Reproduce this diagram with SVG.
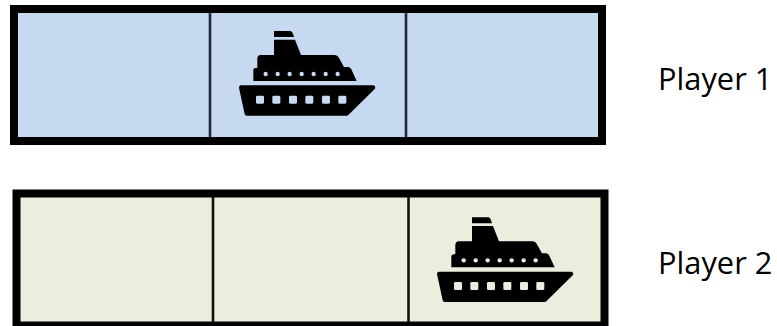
<svg xmlns="http://www.w3.org/2000/svg" width="777" height="326" viewBox="0 0 777 326">
<style>
.frame{stroke:#000;stroke-width:8}
.p1{fill:#c6d9f1;color:#c6d9f1}
.p2{fill:#ebeedd;color:#ebeedd}
.div{stroke-width:2.6}
.lbl{font-family:"Open Sans","Noto Sans",sans-serif;font-size:30.8px;fill:#000}
.hole{fill:currentColor}
</style>
<defs>
<g id="ship" transform="scale(0.3333)">
<path fill="#000" d="M162 33H212Q218 35 222 51H162Z"/>
<path fill="#000" d="M162 59H225L243 105H345Q352 106 356 112L372 141H385Q391 142 394 148L410 183H100V150Q100 144 112 143V115Q113 106 122 105H162Z"/>
<path fill="#000" d="M62 196H460Q468 198 465 206L385 285Q383 287 380 287H80Q75 287 74 282L57 203Q57 197 62 196Z"/>
<g class="hole">
<circle cx="137" cy="162" r="6.500"/><circle cx="173" cy="162" r="6.500"/><circle cx="209" cy="162" r="6.500"/><circle cx="245" cy="162" r="6.500"/><circle cx="281" cy="162" r="6.500"/><circle cx="317" cy="162" r="6.500"/><circle cx="353" cy="162" r="6.500"/>
<rect x="108" y="227" width="24" height="24" rx="4"/><rect x="157" y="227" width="24" height="24" rx="4"/><rect x="207" y="227" width="24" height="24" rx="4"/><rect x="256" y="227" width="24" height="24" rx="4"/><rect x="306" y="227" width="24" height="24" rx="4"/><rect x="355" y="227" width="24" height="24" rx="4"/>
</g>
</g>
</defs>
<g id="player1-board">
<rect class="frame p1" x="14" y="9" width="588" height="132"/>
<line class="div" x1="210" y1="13" x2="210" y2="137" stroke="#1f2a38"/>
<line class="div" x1="406" y1="13" x2="406" y2="137" stroke="#1f2a38"/>
<use href="#ship" transform="translate(220 20)" class="p1"/>
</g>
<g id="player2-board">
<rect class="frame p2" x="16.500" y="193.500" width="588" height="132"/>
<line class="div" x1="213" y1="197" x2="213" y2="322" stroke="#111"/>
<line class="div" x1="408.500" y1="197" x2="408.500" y2="322" stroke="#111"/>
<use href="#ship" transform="translate(418 206.300)" class="p2"/>
</g>
<g id="labels">
<text class="lbl" x="658" y="90">Player 1</text>
<text class="lbl" x="658" y="273.500">Player 2</text>
</g>
<g id="connectors"/>
</svg>
